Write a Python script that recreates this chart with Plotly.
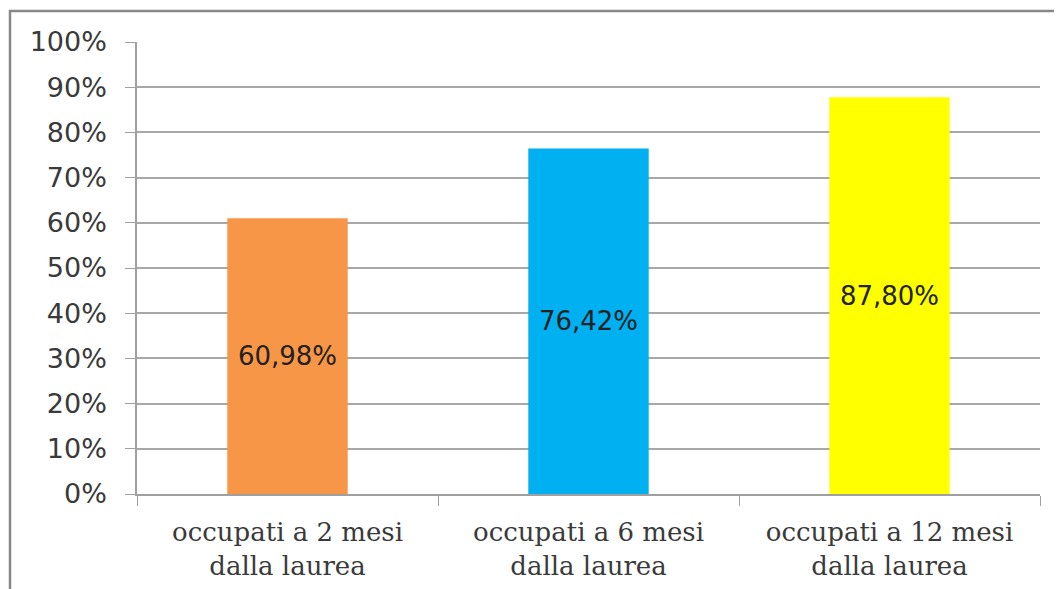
import plotly.graph_objects as go

categories = ["occupati a 2 mesi<br>dalla laurea", "occupati a 6 mesi<br>dalla laurea", "occupati a 12 mesi<br>dalla laurea"]
values = [0.6098, 0.7642, 0.8780]
labels = ["60,98%", "76,42%", "87,80%"]
colors = ["#F79646", "#00B0F0", "#FFFF00"]
ytickvals = [0, 0.1, 0.2, 0.3, 0.4, 0.5, 0.6, 0.7, 0.8, 0.9, 1.0]
yticktext = ["0%", "10%", "20%", "30%", "40%", "50%", "60%", "70%", "80%", "90%", "100%"]

fig = go.Figure(go.Bar(
    x=categories, y=values, text=labels, marker_color=colors, marker_line_width=0,
    textposition="inside", insidetextanchor="middle", width=0.4,
    textfont=dict(family="DejaVu Sans", size=26, color="#222222"),
    textangle=0, hoverinfo="skip"))

# page body has an 8px margin; figure is sized/offset to compensate
OFF = 8
W, H = 1054, 581
l, r, t, b = 129, 22, 34, 95
pw, ph = W - l - r, H - t - b

def px_x(p):
    return (p - OFF - l) / pw

def px_y(p):
    return (H - b - (p - OFF)) / ph

fig.update_layout(
    width=W, height=H, margin=dict(l=l, r=r, t=t, b=b, autoexpand=False),
    paper_bgcolor="white", plot_bgcolor="white", showlegend=False,
    xaxis=dict(type="category", tickson="boundaries", ticks="outside", ticklen=10,
               tickcolor="#A0A0A0", showline=True, linecolor="#A0A0A0", linewidth=1.5,
               showgrid=False, ticklabelstandoff=14, automargin=False,
               tickfont=dict(family="DejaVu Serif", size=26, color="#3a3a3a")),
    yaxis=dict(range=[0, 1], tickvals=ytickvals, ticktext=yticktext, ticks="outside", ticklen=10,
               tickcolor="#A0A0A0", showline=True, linecolor="#A0A0A0", linewidth=1.5,
               showgrid=True, gridcolor="#A8A8A8", gridwidth=1.5, zeroline=False,
               ticklabelstandoff=13, automargin=False,
               tickfont=dict(family="DejaVu Sans", size=27, color="#3a3a3a")),
    shapes=[dict(type="rect", xref="paper", yref="paper",
                 x0=px_x(10), x1=px_x(1075), y0=px_y(600), y1=px_y(11),
                 line=dict(color="#888888", width=2.5), fillcolor="rgba(0,0,0,0)", layer="below")],
)

fig.write_html("out.html")
